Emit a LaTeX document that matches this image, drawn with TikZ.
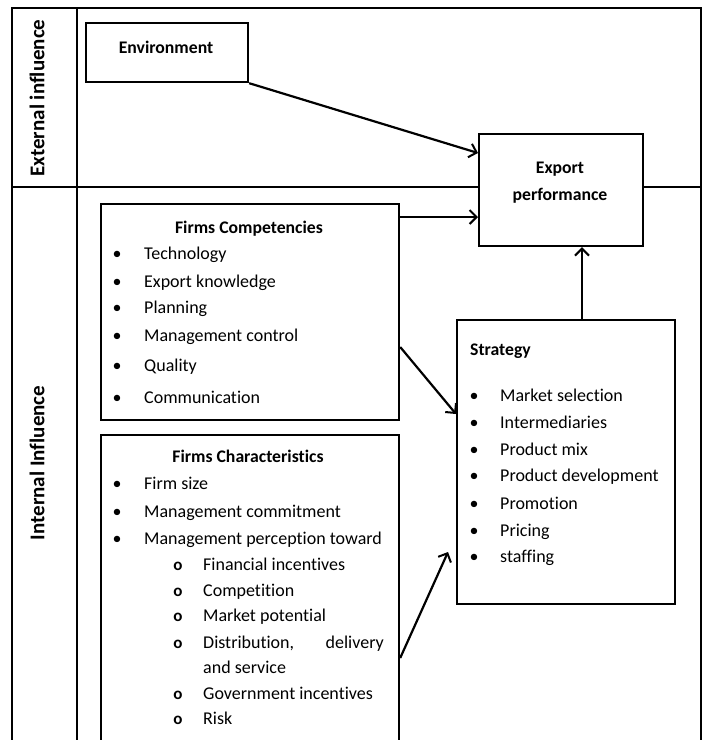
\documentclass[tikz,border=0pt]{standalone}
\usepackage{fontspec}
\setmainfont{Carlito}[Ligatures=NoCommon]
\usetikzlibrary{arrows.meta}

\begin{document}
\begin{tikzpicture}[x=1pt,y=-1pt,
  frame/.style={line width=2.2pt},
  box/.style={draw, line width=2.2pt, rectangle, inner sep=0pt, anchor=north west},
  arr/.style={line width=2.2pt, -{Straight Barb[length=7pt,width=14pt,line width=2pt]}},
  txt/.style={font=\fontsize{18}{21}\selectfont, inner sep=0pt, anchor=base west},
  dot/.style={font=\fontsize{18}{21}\selectfont, inner sep=0pt, anchor=base},
  subdot/.style={font=\fontsize{17}{21}\selectfont\bfseries, inner sep=0pt, anchor=base},
  ttl/.style={font=\fontsize{17.7}{21}\selectfont\bfseries, inner sep=0pt, anchor=base},
  side/.style={font=\fontsize{21}{24}\selectfont\bfseries, rotate=90, inner sep=0pt}
]
\clip (0,0) rectangle (703,740);

% outer frame and row/column dividers
\draw[frame] (12,745) -- (12,8) -- (701,8) -- (701,745);
\draw[frame] (77,8) -- (77,745);

% boxes
\node[box, minimum width=162pt, minimum height=59pt] (env) at (85,22) {};
\node[box, minimum width=164pt, minimum height=112pt] (exp) at (478,133) {};
\node[box, minimum width=298pt, minimum height=216pt] (comp) at (100,203) {};
\node[box, minimum width=298pt, minimum height=330pt] (char) at (100,434) {};
\node[box, minimum width=218pt, minimum height=284pt] (strat) at (456,319) {};

\draw[frame] (12,187) -- (exp.west |- 0,187);
\draw[frame] (exp.east |- 0,187) -- (701,187);

% side labels
\node[side] (ext) at (37,98) {External influence};
\node[side] (int) at (37,463) {Internal Influence};

% box texts
\node[ttl] (envt) at (166,53) {Environment};
\node[ttl] (expt1) at (560,173) {Export};
\node[ttl] (expt2) at (560,200) {performance};

\node[ttl] (compt) at (249,233) {Firms Competencies};
\foreach \y/\t [count=\i] in {259/Technology, 287/Export knowledge, 313/Planning,
    341/Management control, 371/Quality, 403/Communication}{
  \node[dot] (cb\i) at (117,\y) {•};
  \node[txt] (ci\i) at (144,\y) {\t};
}

\node[ttl] (chart) at (248,462) {Firms Characteristics};
\foreach \y/\t [count=\i] in {489/Firm size, 517/Management commitment,
    544/Management perception toward}{
  \node[dot] (hb\i) at (117,\y) {•};
  \node[txt] (hi\i) at (144,\y) {\t};
}
\foreach \y/\t [count=\i] in {570/Financial incentives, 596/Competition,
    621/Market potential, 648/{Distribution,}, 699/Government incentives, 724/Risk}{
  \node[subdot] (sb\i) at (178,\y) {o};
  \node[txt] (si\i) at (203,\y) {\t};
}
\node[txt, anchor=base east] (si4b) at (384,648) {delivery};
\node[txt] (si4c) at (203,673) {and service};

\node[ttl, anchor=base west] (stratt) at (470,355) {Strategy};
\foreach \y/\t [count=\i] in {401/Market selection, 428/Intermediaries, 455/Product mix,
    481/Product development, 509/Promotion, 536/Pricing, 562/staffing}{
  \node[dot] (tb\i) at (474,\y) {•};
  \node[txt] (ti\i) at (500,\y) {\t};
}

% connectors
\coordinate (charTip) at (448,552);
\draw[arr] (env.south east) -- (exp.west |- 0,153);
\draw[arr] (comp.east |- 0,217) -- (exp.west |- 0,217);
\draw[arr] (strat.north -| 582,0) -- (exp.south -| 582,0);
\draw[arr] (comp.east |- 0,347) -- (strat.west |- 0,414);
\draw[arr] (char.east |- 0,658) -- (charTip);
\end{tikzpicture}
\end{document}
